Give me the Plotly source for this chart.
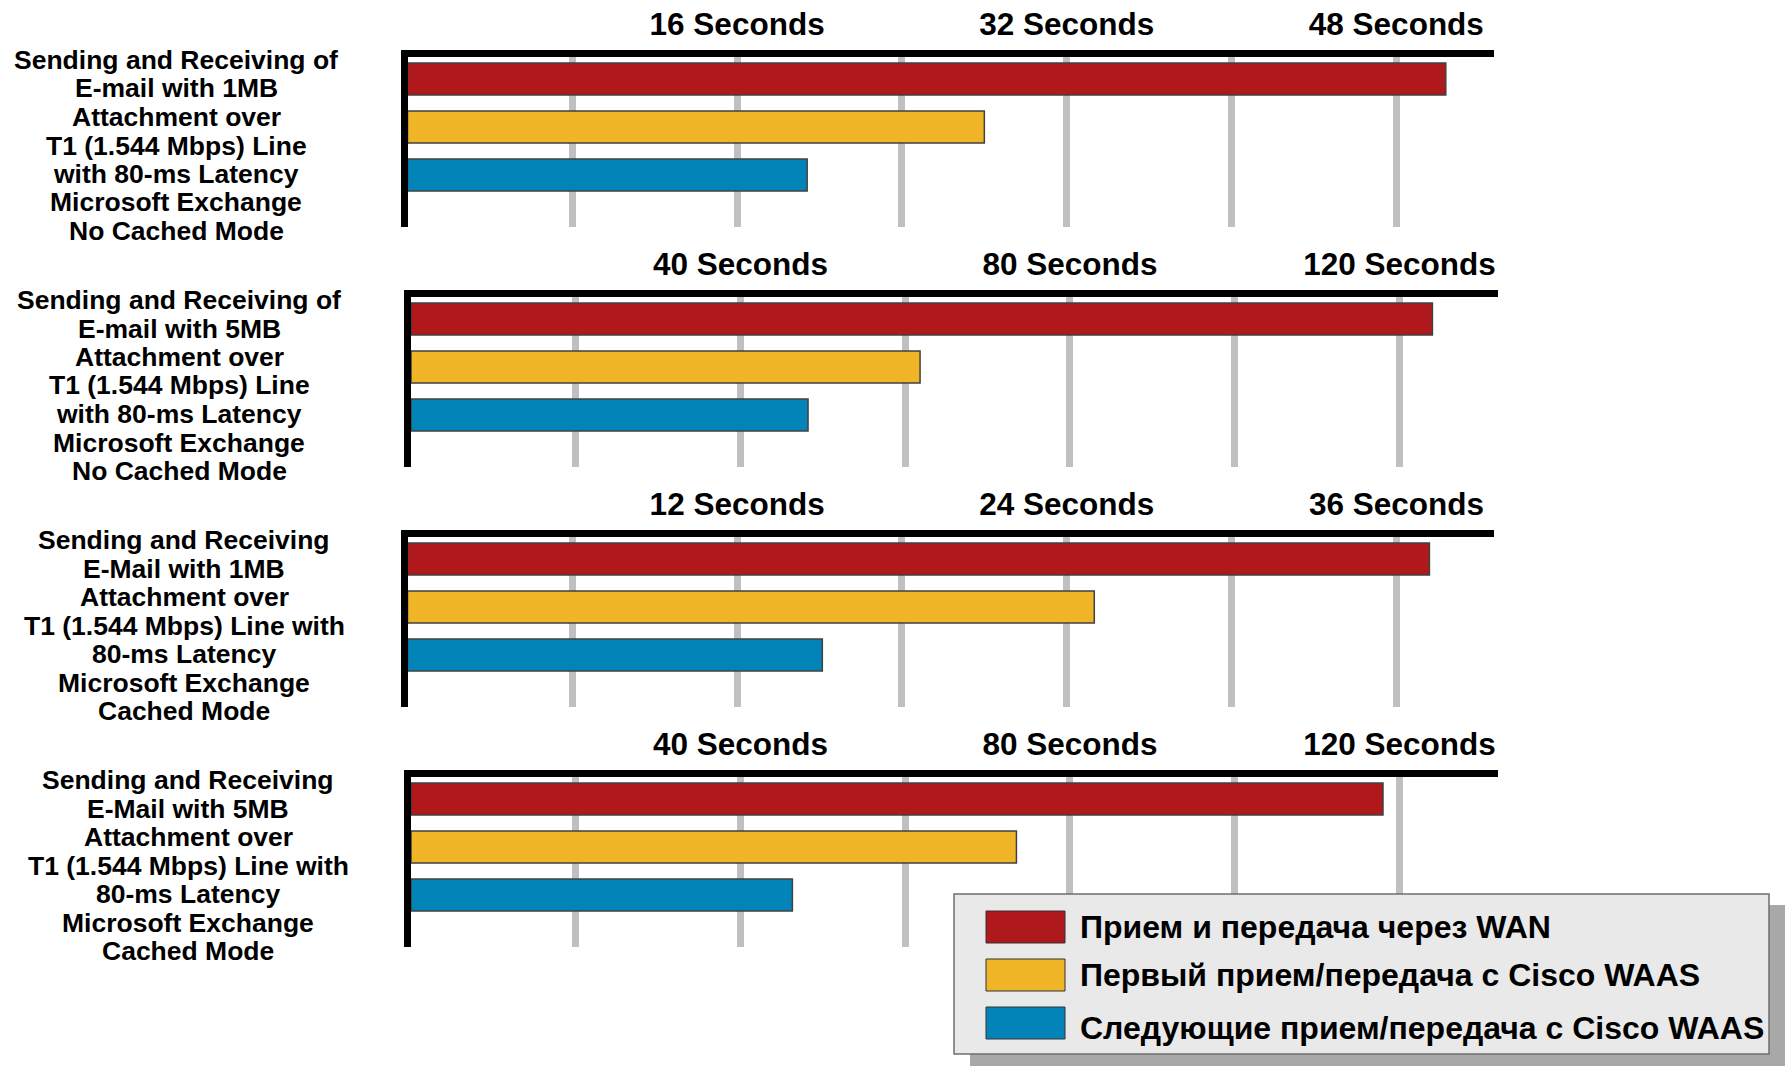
import plotly.graph_objects as go

# ---------------- data ----------------
scenario_lines = [
    ["Sending and Receiving of", "E-mail with 1MB", "Attachment over", "T1 (1.544 Mbps) Line",
     "with 80-ms Latency", "Microsoft Exchange", "No Cached Mode"],
    ["Sending and Receiving of", "E-mail with 5MB", "Attachment over", "T1 (1.544 Mbps) Line",
     "with 80-ms Latency", "Microsoft Exchange", "No Cached Mode"],
    ["Sending and Receiving", "E-Mail with 1MB", "Attachment over", "T1 (1.544 Mbps) Line with",
     "80-ms Latency", "Microsoft Exchange", "Cached Mode"],
    ["Sending and Receiving", "E-Mail with 5MB", "Attachment over", "T1 (1.544 Mbps) Line with",
     "80-ms Latency", "Microsoft Exchange", "Cached Mode"],
]
series_names = ["Прием и передача через WAN",
                "Первый прием/передача с Cisco WAAS",
                "Следующие прием/передача с Cisco WAAS"]
wan_seconds = [50.4, 124, 37.2, 118]
waas_first_seconds = [28.0, 61.8, 25.0, 73.5]
waas_next_seconds = [19.4, 48.2, 15.1, 46.3]
grid_step = [8, 20, 6, 20]
tick_labels = [["16 Seconds", "32 Seconds", "48 Seconds"],
               ["40 Seconds", "80 Seconds", "120 Seconds"],
               ["12 Seconds", "24 Seconds", "36 Seconds"],
               ["40 Seconds", "80 Seconds", "120 Seconds"]]
series_colors = ["#B0191C", "#EFB527", "#0384B9"]

# ---------------- layout geometry (pixels) ----------------
W, H = 1785, 1066
panel_top = [53, 293, 533, 773]
panel_left = [404, 407.5, 404, 407.5]
panel_right = [1494, 1497.5, 1494, 1497.5]
panel_xmax = [52.74, 131.9, 39.55, 131.9]
panel_height = 174
label_cx = [176, 179, 184, 188]
legend_text_dy = [0, 0, 5]
FONT = "Liberation Sans"


def px(x):
    return x / W


def py(y):
    return 1 - y / H


series_values = [wan_seconds, waas_first_seconds, waas_next_seconds]

fig = go.Figure()
layout = {}
annotations = []
shapes = []

for i in range(4):
    n = "" if i == 0 else str(i + 1)
    for s in range(3):
        fig.add_trace(go.Bar(
            x=[series_values[s][i]], y=[s], orientation="h", width=0.667,
            name=series_names[s], showlegend=False,
            marker=dict(color=series_colors[s], line=dict(color="#404040", width=1.5)),
            xaxis="x" + n, yaxis="y" + n,
            hovertemplate="%{x} s<extra>" + series_names[s] + "</extra>",
        ))
    step = grid_step[i]
    tickvals = [step * k for k in range(1, 7)]
    ticktext = ["", tick_labels[i][0], "", tick_labels[i][1], "", tick_labels[i][2]]
    T = panel_top[i]
    layout["xaxis" + n] = dict(
        domain=[px(panel_left[i] + 3.5), px(panel_right[i])],
        range=[0, panel_xmax[i]], side="top", anchor="y" + n,
        showline=True, linewidth=7, linecolor="black",
        showgrid=True, gridcolor="#c0c0c0", gridwidth=7,
        tickvals=tickvals, ticktext=ticktext, ticks="",
        ticklabelstandoff=2,
        tickfont=dict(family=FONT, size=31.5, color="black", weight="bold"),
        zeroline=False, fixedrange=True,
    )
    layout["yaxis" + n] = dict(
        domain=[py(T + panel_height), py(T + 3.5)],
        range=[3.083, -0.469], anchor="x" + n,
        showline=True, linewidth=7, linecolor="black",
        showgrid=False, showticklabels=False, zeroline=False, ticks="",
        fixedrange=True,
    )
    for j, line in enumerate(scenario_lines[i]):
        annotations.append(dict(
            text=line, x=px(label_cx[i]), y=py(T + 7 + 28.5 * j),
            xref="paper", yref="paper", xanchor="center", yanchor="middle",
            showarrow=False, font=dict(family=FONT, size=26.5, color="black", weight="bold"),
        ))

# ---------------- custom legend ----------------
shapes.append(dict(type="rect", xref="paper", yref="paper",
                   x0=px(970), x1=px(1785), y0=py(1066), y1=py(905),
                   fillcolor="#a8a8a8", line=dict(width=0), layer="above"))
shapes.append(dict(type="rect", xref="paper", yref="paper",
                   x0=px(954), x1=px(1769), y0=py(1054), y1=py(894),
                   fillcolor="#e9e9e9", line=dict(color="#6e6e6e", width=1.5), layer="above"))
for k in range(3):
    y0 = 911 + 48 * k
    shapes.append(dict(type="rect", xref="paper", yref="paper",
                       x0=px(986), x1=px(1065), y0=py(y0 + 32), y1=py(y0),
                       fillcolor=series_colors[k], line=dict(color="#333333", width=1),
                       layer="above"))
    annotations.append(dict(
        text=series_names[k], x=px(1078), y=py(y0 + 16 + legend_text_dy[k]),
        xref="paper", yref="paper", xanchor="left", yanchor="middle",
        showarrow=False, font=dict(family=FONT, size=32, color="black", weight="bold"),
    ))

fig.update_layout(
    width=W, height=H, autosize=False,
    margin=dict(l=0, r=0, t=0, b=0),
    paper_bgcolor="white", plot_bgcolor="white",
    barmode="overlay", showlegend=False,
    annotations=annotations, shapes=shapes,
    **layout,
)

fig.write_html("out.html")
